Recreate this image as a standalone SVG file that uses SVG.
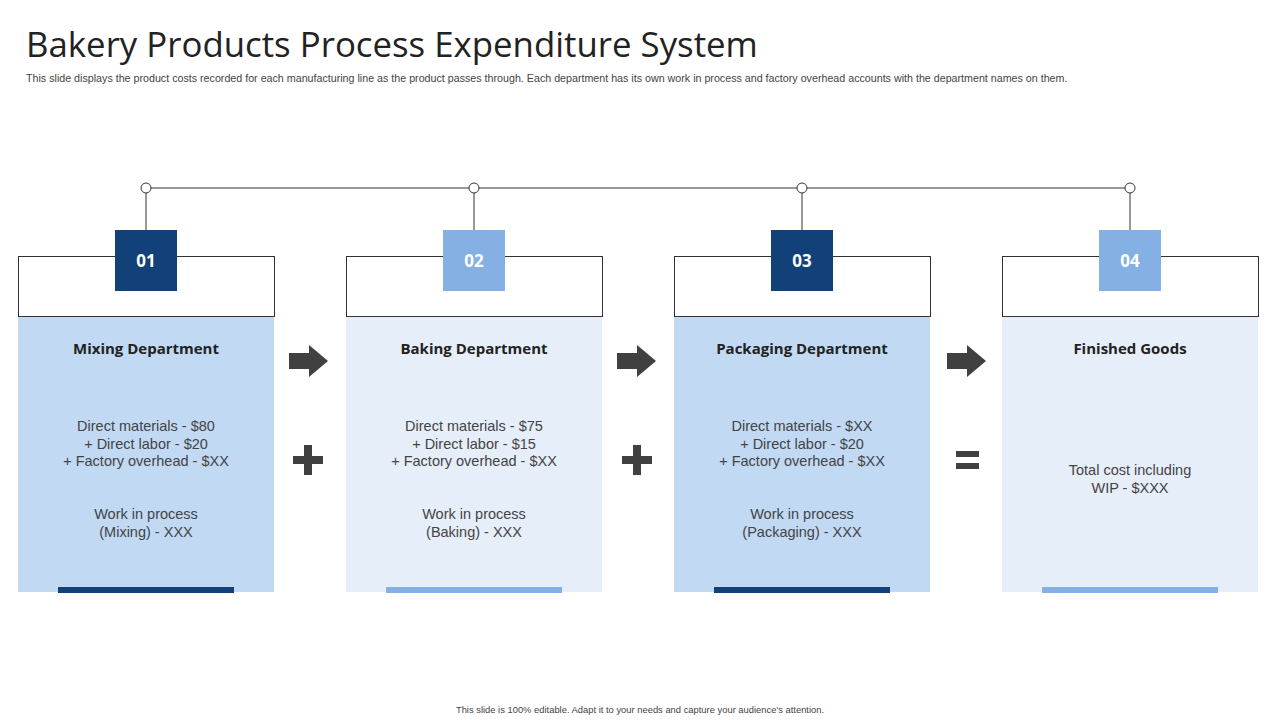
<svg xmlns="http://www.w3.org/2000/svg" width="1280" height="720" viewBox="0 0 1280 720">
<style>
.t{font-family:"Open Sans","Liberation Sans",sans-serif}
.hd{fill:#fff;stroke:#333;stroke-width:1}
.ttl{font-family:"Open Sans","Liberation Sans",sans-serif;font-weight:bold;font-size:15px;fill:#222;text-anchor:middle}
.bd{font-family:"Liberation Sans",sans-serif;font-size:14.5px;fill:#444;text-anchor:middle}
.num{font-family:"Open Sans","Liberation Sans",sans-serif;font-weight:bold;font-size:17px;fill:#fff;text-anchor:middle}
.ln{stroke:#333;stroke-width:1;fill:none}
.dot{fill:#fff;stroke:#333;stroke-width:1}
.sym{fill:#404040}
</style>
<rect width="1280" height="720" fill="#fff"/>
<text x="26" y="57" class="t" font-size="34.8" fill="#222">Bakery Products Process Expenditure System</text>
<text x="26" y="82" font-family="Liberation Sans, sans-serif" font-size="10.7" fill="#444">This slide displays the product costs recorded for each manufacturing line as the product passes through. Each department has its own work in process and factory overhead accounts with the department names on them.</text>
<g id="connectors">
<line class="ln" x1="146" y1="188" x2="1130" y2="188"/>
<line class="ln" x1="146" y1="188" x2="146" y2="230"/>
<line class="ln" x1="474" y1="188" x2="474" y2="230"/>
<line class="ln" x1="802" y1="188" x2="802" y2="230"/>
<line class="ln" x1="1130" y1="188" x2="1130" y2="230"/>
<circle class="dot" cx="146" cy="188" r="5"/>
<circle class="dot" cx="474" cy="188" r="5"/>
<circle class="dot" cx="802" cy="188" r="5"/>
<circle class="dot" cx="1130" cy="188" r="5"/>
</g>
<g id="node1">
<rect x="18" y="316" width="256" height="276" fill="#c1d9f3"/>
<rect class="hd" x="18.5" y="256.5" width="256" height="60"/>
<rect x="115" y="230" width="62" height="61" fill="#12417a"/>
<text x="146" y="267" class="num">01</text>
<text x="146" y="354" class="ttl">Mixing Department</text>
<text x="146" y="431" class="bd">Direct materials  - $80</text>
<text x="146" y="449" class="bd">+ Direct labor - $20</text>
<text x="146" y="466" class="bd">+ Factory overhead - $XX</text>
<text x="146" y="519" class="bd">Work in process</text>
<text x="146" y="537" class="bd">(Mixing) - XXX</text>
<rect x="58" y="587" width="176" height="6" fill="#12417a"/>
</g>
<g id="node2">
<rect x="346" y="316" width="256" height="276" fill="#e6eef9"/>
<rect class="hd" x="346.5" y="256.5" width="256" height="60"/>
<rect x="443" y="230" width="62" height="61" fill="#84b0e3"/>
<text x="474" y="267" class="num">02</text>
<text x="474" y="354" class="ttl">Baking Department</text>
<text x="474" y="431" class="bd">Direct materials  - $75</text>
<text x="474" y="449" class="bd">+ Direct labor - $15</text>
<text x="474" y="466" class="bd">+ Factory overhead - $XX</text>
<text x="474" y="519" class="bd">Work in process</text>
<text x="474" y="537" class="bd">(Baking) - XXX</text>
<rect x="386" y="587" width="176" height="6" fill="#84b0e3"/>
</g>
<g id="node3">
<rect x="674" y="316" width="256" height="276" fill="#c1d9f3"/>
<rect class="hd" x="674.5" y="256.5" width="256" height="60"/>
<rect x="771" y="230" width="62" height="61" fill="#12417a"/>
<text x="802" y="267" class="num">03</text>
<text x="802" y="354" class="ttl">Packaging Department</text>
<text x="802" y="431" class="bd">Direct materials  - $XX</text>
<text x="802" y="449" class="bd">+ Direct labor - $20</text>
<text x="802" y="466" class="bd">+ Factory overhead - $XX</text>
<text x="802" y="519" class="bd">Work in process</text>
<text x="802" y="537" class="bd">(Packaging) - XXX</text>
<rect x="714" y="587" width="176" height="6" fill="#12417a"/>
</g>
<g id="node4">
<rect x="1002" y="316" width="256" height="276" fill="#e6eef9"/>
<rect class="hd" x="1002.5" y="256.5" width="256" height="60"/>
<rect x="1099" y="230" width="62" height="61" fill="#84b0e3"/>
<text x="1130" y="267" class="num">04</text>
<text x="1130" y="354" class="ttl">Finished Goods</text>
<text x="1130" y="475" class="bd">Total cost including</text>
<text x="1130" y="493" class="bd">WIP -  $XXX</text>
<rect x="1042" y="587" width="176" height="6" fill="#84b0e3"/>
</g>
<g id="symbols">
<path class="sym" d="M289,353 H309 V345 L328,361 L309,377 V369 H289 Z"/>
<path class="sym" d="M617,353 H637 V345 L656,361 L637,377 V369 H617 Z"/>
<path class="sym" d="M947,353 H967 V345 L986,361 L967,377 V369 H947 Z"/>
<path class="sym" d="M304,445 H312 V456 H323 V464 H312 V475 H304 V464 H293 V456 H304 Z"/>
<path class="sym" d="M633,445 H641 V456 H652 V464 H641 V475 H633 V464 H622 V456 H633 Z"/>
<rect class="sym" x="956" y="451" width="23" height="6"/>
<rect class="sym" x="956" y="463" width="23" height="6"/>
</g>
<text x="640" y="713" text-anchor="middle" font-family="Liberation Sans, sans-serif" font-size="9.4" fill="#444">This slide is 100% editable. Adapt it to your needs and capture your audience's attention.</text>
</svg>
